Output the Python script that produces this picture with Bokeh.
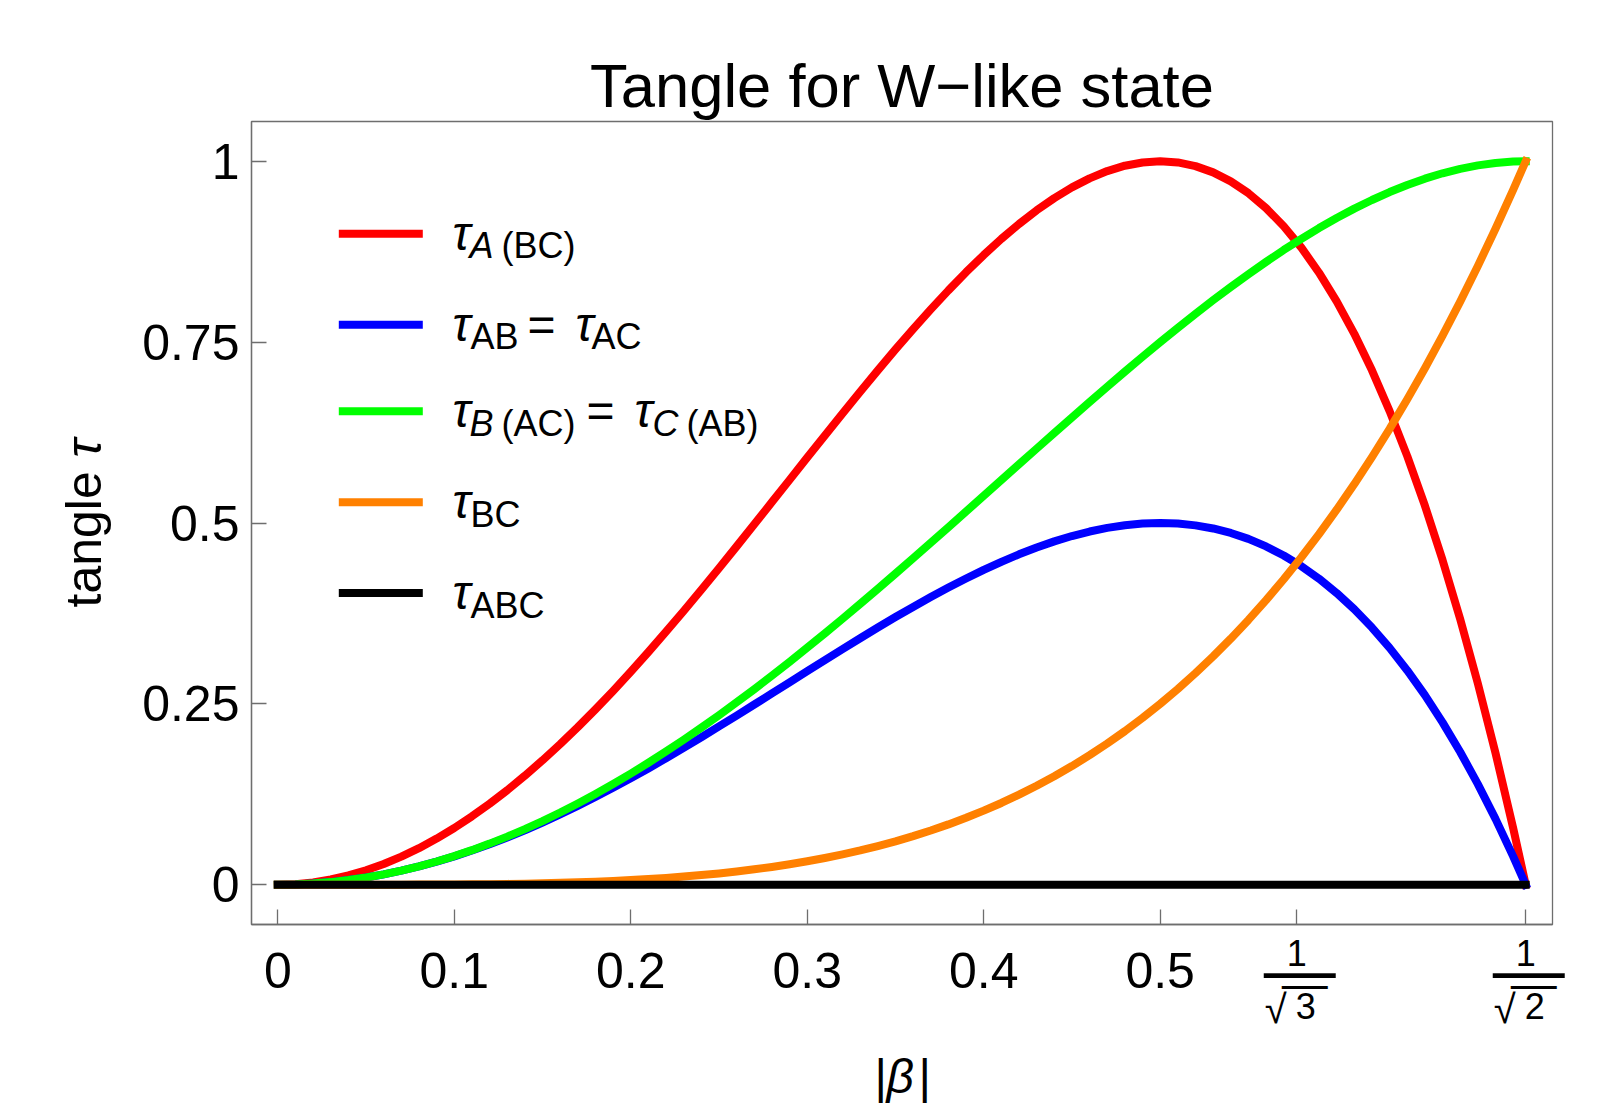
import math
from bokeh.plotting import figure
from bokeh.models import Range1d, FixedTicker, Label, Arrow
from bokeh.embed import file_html
from bokeh.resources import INLINE

# ---------------- data ----------------
beta = [0.00, 0.01, 0.02, 0.03, 0.04, 0.05, 0.06, 0.07, 0.08, 0.09,
        0.10, 0.11, 0.12, 0.13, 0.14, 0.15, 0.16, 0.17, 0.18, 0.19,
        0.20, 0.21, 0.22, 0.23, 0.24, 0.25, 0.26, 0.27, 0.28, 0.29,
        0.30, 0.31, 0.32, 0.33, 0.34, 0.35, 0.36, 0.37, 0.38, 0.39,
        0.40, 0.41, 0.42, 0.43, 0.44, 0.45, 0.46, 0.47, 0.48, 0.49,
        0.50, 0.51, 0.52, 0.53, 0.54, 0.55, 0.56, 0.57, 0.58, 0.59,
        0.60, 0.61, 0.62, 0.63, 0.64, 0.65, 0.66, 0.67, 0.68, 0.69,
        0.70, 0.70711]
tau_A_BC = [0.0, 0.0008, 0.0032, 0.0072, 0.0128, 0.0199, 0.0286, 0.0388, 0.0505, 0.0638,
            0.0784, 0.0945, 0.1119, 0.1306, 0.1507, 0.1719, 0.1943, 0.2178, 0.2424, 0.2679,
            0.2944, 0.3217, 0.3497, 0.3784, 0.4077, 0.4375, 0.4677, 0.4982, 0.5289, 0.5596,
            0.5904, 0.6210, 0.6514, 0.6815, 0.7110, 0.7399, 0.7681, 0.7953, 0.8216, 0.8467,
            0.8704, 0.8927, 0.9133, 0.9322, 0.9491, 0.9639, 0.9764, 0.9865, 0.9939, 0.9984,
            1.0, 0.9984, 0.9933, 0.9847, 0.9723, 0.9559, 0.9353, 0.9102, 0.8806, 0.8460,
            0.8064, 0.7615, 0.7110, 0.6547, 0.5924, 0.5239, 0.4488, 0.3670, 0.2782, 0.1821,
            0.0784, 0.0]
tau_AB = [0.0, 0.0004, 0.0016, 0.0036, 0.0064, 0.0100, 0.0143, 0.0194, 0.0253, 0.0319,
          0.0392, 0.0472, 0.0559, 0.0653, 0.0753, 0.0860, 0.0972, 0.1089, 0.1212, 0.1340,
          0.1472, 0.1608, 0.1749, 0.1892, 0.2039, 0.2188, 0.2338, 0.2491, 0.2644, 0.2798,
          0.2952, 0.3105, 0.3257, 0.3407, 0.3555, 0.3700, 0.3840, 0.3977, 0.4108, 0.4233,
          0.4352, 0.4463, 0.4567, 0.4661, 0.4746, 0.4820, 0.4882, 0.4932, 0.4969, 0.4992,
          0.5, 0.4992, 0.4967, 0.4924, 0.4862, 0.4780, 0.4676, 0.4551, 0.4403, 0.4230,
          0.4032, 0.3807, 0.3555, 0.3274, 0.2962, 0.2620, 0.2244, 0.1835, 0.1391, 0.0910,
          0.0392, 0.0]
tau_B_AC = [0.0, 0.0004, 0.0016, 0.0036, 0.0064, 0.0100, 0.0143, 0.0195, 0.0254, 0.0321,
            0.0396, 0.0478, 0.0568, 0.0665, 0.0769, 0.0880, 0.0998, 0.1123, 0.1254, 0.1392,
            0.1536, 0.1686, 0.1842, 0.2004, 0.2171, 0.2344, 0.2521, 0.2703, 0.2890, 0.3081,
            0.3276, 0.3475, 0.3677, 0.3882, 0.4089, 0.4300, 0.4512, 0.4726, 0.4942, 0.5159,
            0.5376, 0.5594, 0.5811, 0.6028, 0.6245, 0.6460, 0.6673, 0.6884, 0.7093, 0.7298,
            0.75, 0.7698, 0.7891, 0.8080, 0.8263, 0.8440, 0.8610, 0.8774, 0.8929, 0.9077,
            0.9216, 0.9346, 0.9465, 0.9575, 0.9673, 0.9760, 0.9834, 0.9896, 0.9943, 0.9977,
            0.9996, 1.0]
tau_BC = [0.0, 0.0, 0.0, 0.0, 0.0, 0.0, 0.0001, 0.0001, 0.0002, 0.0003,
          0.0004, 0.0006, 0.0008, 0.0011, 0.0015, 0.0020, 0.0026, 0.0033, 0.0042, 0.0052,
          0.0064, 0.0078, 0.0094, 0.0112, 0.0133, 0.0156, 0.0183, 0.0213, 0.0246, 0.0283,
          0.0324, 0.0369, 0.0419, 0.0474, 0.0535, 0.0600, 0.0672, 0.0750, 0.0834, 0.0925,
          0.1024, 0.1130, 0.1245, 0.1368, 0.1499, 0.1640, 0.1791, 0.1952, 0.2123, 0.2306,
          0.25, 0.2706, 0.2925, 0.3156, 0.3401, 0.3660, 0.3934, 0.4222, 0.4527, 0.4847,
          0.5184, 0.5538, 0.5911, 0.6301, 0.6711, 0.7140, 0.7590, 0.8060, 0.8553, 0.9067,
          0.9604, 1.0]
beta_ABC = [0.0, 0.70711]
tau_ABC = [0.0, 0.0]

x_ticks = [0.0, 0.1, 0.2, 0.3, 0.4, 0.5, 0.57735, 0.70711]
x_tick_labels = ["0", "0.1", "0.2", "0.3", "0.4", "0.5", "", ""]
frac_ticks = [0.57735, 0.70711]
frac_num = ["1", "1"]
frac_den = ["3", "2"]
y_ticks = [0.0, 0.25, 0.5, 0.75, 1.0]
y_tick_labels = ["0", "0.25", "0.5", "0.75", "1"]

title_text = "Tangle for W\u2212like state"
series_colors = ["#ff0000", "#0000ff", "#00ff00", "#ff8000", "#000000"]

# ---------------- layout ----------------
FONT = "Liberation Sans"
XR = (-0.0149, 0.7223)
YR = (-0.055, 1.055)
FW, FH = 1301, 803
BL, BT, BR, BB = 251, 121, 45, 182

def sx(px):
    return XR[0] + (px - BL) / FW * (XR[1] - XR[0])

def sy(py):
    return YR[1] - (py - BT) / FH * (YR[1] - YR[0])

def px_of(x):
    return BL + (x - XR[0]) / (XR[1] - XR[0]) * FW

# empirical shift between the requested baseline and where Bokeh draws it
def base_fix(size):
    return 6.5 + size * (10.0 / 48.0)

p = figure(frame_width=FW, frame_height=FH,
           min_border_left=BL, min_border_top=BT, min_border_right=BR, min_border_bottom=BB,
           x_range=Range1d(*XR), y_range=Range1d(*YR),
           output_backend="svg", toolbar_location=None,
           background_fill_color="white", border_fill_color="white")

p.title.text = title_text
p.title.align = "center"
p.title.text_font = FONT
p.title.text_font_size = "61.5px"
p.title.text_font_style = "normal"
p.title.text_color = "black"
p.title.standoff = 3

p.grid.visible = False
p.outline_line_color = "#6e6e6e"
p.outline_line_width = 1.3

for ax in (p.xaxis[0], p.yaxis[0]):
    ax.axis_line_color = "#6e6e6e"
    ax.axis_line_width = 1.3
    ax.major_tick_line_color = "#6e6e6e"
    ax.major_tick_line_width = 1.3
    ax.major_tick_in = 15
    ax.major_tick_out = 0
    ax.minor_tick_line_color = None
    ax.major_label_text_font = FONT
    ax.major_label_text_font_size = "50px"
    ax.major_label_text_color = "black"

p.xaxis[0].ticker = FixedTicker(ticks=x_ticks)
p.xaxis[0].major_label_overrides = {t: l for t, l in zip(x_ticks, x_tick_labels)}
p.xaxis[0].major_label_standoff = 28
p.yaxis[0].ticker = FixedTicker(ticks=y_ticks)
p.yaxis[0].major_label_standoff = 12
p.yaxis[0].major_label_overrides = {t: l for t, l in zip(y_ticks, y_tick_labels)}

# ---------------- curves ----------------
series_x = [beta, beta, beta, beta, beta_ABC]
series_y = [tau_A_BC, tau_AB, tau_B_AC, tau_BC, tau_ABC]
for xs, ys, c in zip(series_x, series_y, series_colors):
    p.line(xs, ys, line_color=c, line_width=8, line_join="round", line_cap="square")

# ---------------- text helpers ----------------
def add_text(px, py, text, size=48, style="normal", align="left", place="center", rotated=False):
    f = base_fix(size)
    if rotated:
        x, y, ang = sx(px - f), sy(py), math.pi / 2
    else:
        x, y, ang = sx(px), sy(py - f), 0.0
    lb = Label(x=x, y=y, text=text, text_font=FONT,
               text_font_size=f"{size}px", text_font_style=style,
               text_color="black", text_align=align,
               text_baseline="alphabetic", angle=ang)
    p.add_layout(lb, place)

def add_swatch(px0, px1, py, width, color):
    p.add_layout(Arrow(start=None, end=None, x_start=sx(px0), x_end=sx(px1),
                       y_start=sy(py), y_end=sy(py), line_width=width,
                       line_color=color, line_cap="butt"))

# fraction tick labels 1/sqrt(3), 1/sqrt(2) (drawn in the panel below the frame)
for t, n, d in zip(frac_ticks, frac_num, frac_den):
    cx = px_of(t)
    add_text(cx, 966, n, size=36, align="center", place="below")
    add_text(cx + 3, 970.2 + 0.276 * 72, "\u2015", size=72, align="center", place="below")
    add_text(cx - 32, 1023, "\u221a", size=40, place="below")
    add_text(cx - 1, 1019, d, size=36, place="below")
    add_text(cx + 8, 986 + 0.276 * 46, "\u2015", size=46, align="center", place="below")

# axis titles
add_text(100, 607, "tangle ", size=50, place="left", rotated=True)
add_text(100, 457, "\u03c4", size=50, style="italic", place="left", rotated=True)
add_text(874, 1092, "|", size=48, place="below")
add_text(886, 1092, "\u03b2", size=48, style="italic", place="below")
add_text(918, 1092, "|", size=48, place="below")

# ---------------- legend ----------------
legend_rows = [
    [("\u03c4", 48, "italic", 452, 0), ("A", 36, "italic", 469, 1), ("(BC)", 36, "normal", 501, 1)],
    [("\u03c4", 48, "italic", 452, 0), ("AB", 36, "normal", 470, 1), ("=", 48, "normal", 527, 0),
     ("\u03c4", 48, "italic", 575, 0), ("AC", 36, "normal", 591, 1)],
    [("\u03c4", 48, "italic", 452, 0), ("B", 36, "italic", 469, 1), ("(AC)", 36, "normal", 501, 1),
     ("=", 48, "normal", 586, 0), ("\u03c4", 48, "italic", 634, 0), ("C", 36, "italic", 652, 1),
     ("(AB)", 36, "normal", 686, 1)],
    [("\u03c4", 48, "italic", 452, 0), ("BC", 36, "normal", 470, 1)],
    [("\u03c4", 48, "italic", 452, 0), ("ABC", 36, "normal", 470, 1)],
]
row_y = [233.3, 324.2, 410.8, 501.7, 592.5]
for c, yc, pieces in zip(series_colors, row_y, legend_rows):
    add_swatch(338.3, 422.3, yc, 8, c)
    for txt, size, style, px, sub in pieces:
        add_text(px, yc + (26 if sub else 16), txt, size=size, style=style)

open("out.html", "w").write(file_html(p, INLINE))
